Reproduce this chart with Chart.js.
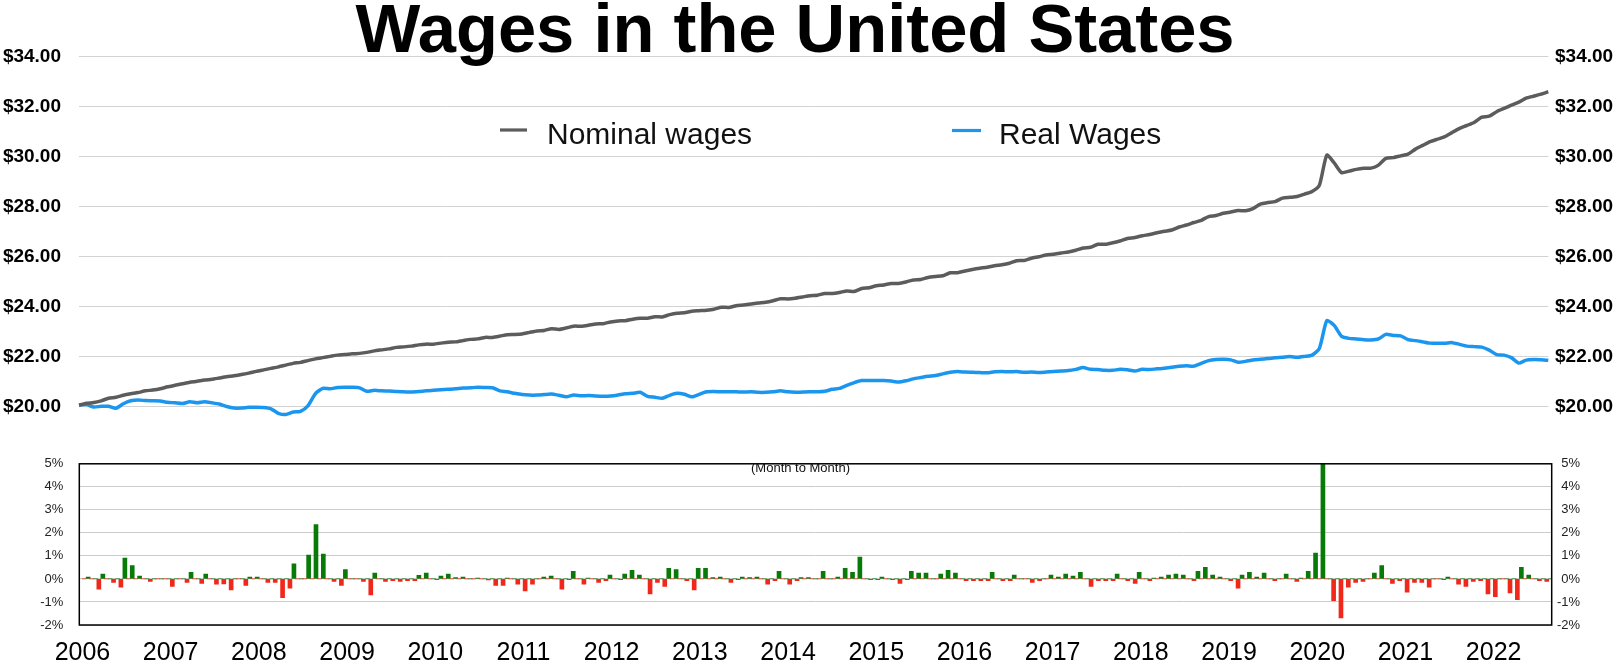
<!DOCTYPE html>
<html>
<head>
<meta charset="utf-8">
<script src="https://cdn.jsdelivr.net/npm/chart.js@4.4.0/dist/chart.umd.min.js"></script>
<style>
html, body { margin: 0; padding: 0; background: #ffffff; }
#wrap { position: relative; width: 1616px; height: 665px; overflow: hidden; background: #fff; }
#topChart { position: absolute; left: 0; top: 0; }
#bottomChart { position: absolute; left: 0; top: 440px; }
</style>
</head>
<body>
<div id="wrap">
  <canvas id="topChart" width="1616" height="440"></canvas>
  <canvas id="bottomChart" width="1616" height="225"></canvas>
</div>
<script>
// ---------------- DATA ----------------
const chartTitle = 'Wages in the United States';
const seriesNames = ['Nominal wages', 'Real Wages'];
const barNote = '(Month to Month)';
const yearLabels = ['2006','2007','2008','2009','2010','2011','2012','2013','2014','2015','2016','2017','2018','2019','2020','2021','2022'];
const wageTickValues = [20, 22, 24, 26, 28, 30, 32, 34];
const pctTickValues = [-2, -1, 0, 1, 2, 3, 4, 5];

// Monthly, Mar 2006 .. Oct 2022 (USD per hour)
const nominalWages = [
  20.04,20.12,20.15,20.22,20.32,20.36,20.44,20.50,20.55,20.62,
  20.65,20.70,20.78,20.84,20.90,20.96,21.00,21.05,21.08,21.13,21.18,21.22,
  21.27,21.33,21.40,21.46,21.52,21.58,21.65,21.72,21.76,21.83,21.90,21.95,
  22.00,22.05,22.07,22.10,22.12,22.16,22.22,22.26,22.30,22.36,22.38,22.41,
  22.46,22.49,22.49,22.53,22.57,22.58,22.63,22.68,22.70,22.76,22.76,22.81,
  22.87,22.88,22.90,22.96,23.02,23.04,23.11,23.08,23.14,23.21,23.21,23.25,
  23.30,23.31,23.38,23.42,23.43,23.49,23.53,23.53,23.59,23.58,23.67,23.73,
  23.75,23.81,23.83,23.85,23.89,23.97,23.96,24.03,24.06,24.10,24.14,24.17,
  24.23,24.31,24.30,24.33,24.38,24.43,24.45,24.52,24.52,24.56,24.62,24.60,
  24.72,24.75,24.83,24.86,24.92,24.92,24.98,25.06,25.08,25.16,25.20,25.23,
  25.35,25.35,25.42,25.48,25.53,25.57,25.63,25.67,25.73,25.83,25.84,25.93,
  25.99,26.06,26.09,26.14,26.18,26.25,26.34,26.37,26.49,26.49,26.55,26.62,
  26.72,26.76,26.83,26.88,26.95,27.01,27.06,27.18,27.26,27.36,27.45,27.60,
  27.64,27.73,27.78,27.84,27.83,27.92,28.10,28.16,28.20,28.34,28.37,28.40,
  28.50,28.60,28.86,30.06,29.75,29.36,29.42,29.49,29.53,29.54,29.66,29.93,
  29.96,30.03,30.10,30.30,30.45,30.60,30.70,30.80,30.97,31.13,31.25,31.38,
  31.58,31.62,31.80,31.93,32.06,32.18,32.34,32.42,32.50,32.60
];
const realWages = [
  20.05,20.07,19.97,20.00,20.00,19.92,20.10,20.22,20.25,20.23,
  20.22,20.21,20.16,20.14,20.11,20.18,20.14,20.18,20.14,20.09,19.99,19.93,
  19.93,19.96,19.96,19.95,19.90,19.72,19.67,19.77,19.80,20.02,20.50,20.72,
  20.70,20.75,20.76,20.76,20.74,20.60,20.64,20.62,20.61,20.59,20.58,20.57,
  20.59,20.62,20.64,20.66,20.68,20.70,20.73,20.74,20.76,20.75,20.74,20.62,
  20.58,20.52,20.47,20.45,20.45,20.47,20.49,20.44,20.38,20.45,20.42,20.43,
  20.41,20.40,20.41,20.45,20.50,20.52,20.56,20.40,20.36,20.32,20.44,20.52,
  20.48,20.38,20.48,20.58,20.59,20.58,20.58,20.58,20.57,20.58,20.56,20.56,
  20.58,20.62,20.58,20.56,20.57,20.58,20.58,20.60,20.68,20.72,20.84,20.95,
  21.03,21.03,21.03,21.03,21.01,20.97,21.02,21.10,21.15,21.20,21.23,21.30,
  21.36,21.39,21.37,21.36,21.35,21.34,21.38,21.39,21.38,21.39,21.36,21.37,
  21.35,21.37,21.39,21.41,21.43,21.48,21.55,21.48,21.47,21.44,21.44,21.48,
  21.46,21.41,21.48,21.47,21.50,21.52,21.56,21.60,21.62,21.61,21.72,21.83,
  21.87,21.88,21.86,21.76,21.80,21.85,21.88,21.91,21.94,21.96,21.99,21.96,
  22.00,22.05,22.32,23.43,23.24,22.80,22.72,22.70,22.67,22.66,22.70,22.88,
  22.84,22.82,22.67,22.63,22.58,22.53,22.53,22.53,22.55,22.48,22.41,22.39,
  22.37,22.25,22.07,22.05,21.95,21.73,21.85,21.87,21.86,21.84
];

// Month-to-month change (%), 200 slots; positive (green) and negative (red) series
const changeUp = [
  0.08,0,0.21,0,0,0.91,0.58,0.12,0,0,
  0,0,0,0,0.29,0,0.21,0,0,0,
  0,0,0.08,0.08,0,0,0,0,0.66,0,
  1.04,2.36,1.08,0,0,0.41,0,0,0,0.25,
  0,0,0,0,0,0.16,0.25,0,0.12,0.21,
  0.06,0.08,0,0.04,0,0,0,0.04,0,0,
  0,0,0.08,0.12,0,0,0.33,0,0.04,0,
  0,0.17,0,0.21,0.37,0.17,0,0,0,0.46,
  0.41,0,0,0.46,0.46,0.06,0.08,0,0,0.08,
  0.06,0.08,0,0,0.33,0,0,0.06,0.06,0,
  0.33,0,0.08,0.46,0.29,0.95,0,0,0.08,0,
  0,0,0.33,0.25,0.25,0,0.21,0.37,0.25,0,
  0,0,0,0.29,0,0,0.17,0,0,0,
  0,0.17,0.08,0.21,0.12,0.29,0,0,0,0,
  0.21,0,0,0.29,0,0.04,0.08,0.17,0.21,0.17,
  0,0.33,0.5,0.17,0.08,0,0,0.17,0.29,0.08,
  0.25,0,0,0.21,0,0.04,0.33,1.12,5.5,0,
  0,0,0,0,0,0.25,0.58,0,0,0,
  0,0,0,0,0,0.08,0,0,0,0,
  0,0,0,0,0,0.5,0.17,0,0,0
];
const changeDown = [
  0,0,-0.44,0,-0.15,-0.36,0,0,0,-0.11,
  0,0,-0.32,0,-0.15,0,-0.19,0,-0.23,-0.22,
  -0.48,0,-0.28,0,0,-0.15,-0.15,-0.81,-0.40,0,
  0,0,0,0,-0.11,-0.28,0,0,-0.11,-0.69,
  0,-0.11,-0.07,-0.11,-0.07,-0.07,0,0,-0.03,0,
  0,0,0,0,0,-0.04,-0.28,-0.28,0,-0.23,
  -0.52,-0.23,0,0,0,-0.44,-0.03,0,-0.23,0,
  -0.15,-0.07,0,-0.03,0,0,0,-0.65,-0.15,-0.32,
  0,0,-0.07,-0.48,0,0,0,0,-0.15,-0.03,
  0,0,0,-0.23,-0.07,0,-0.23,-0.07,0,0,
  0,0,0,0,0,0,0,-0.03,-0.03,0,
  -0.03,-0.19,-0.03,0,0,0,0,0,0,0,
  -0.07,-0.07,-0.07,-0.07,0,-0.07,-0.07,0,0,-0.15,
  -0.07,0,0,0,0,0,0,-0.32,-0.07,-0.07,
  -0.07,0,-0.07,-0.19,0,-0.07,0,0,0,0,
  0,-0.07,0,0,0,0,-0.07,-0.40,0,0,
  0,0,-0.07,0,0,-0.11,0,0,0,0,
  -0.94,-1.69,-0.36,-0.15,-0.11,0,0,0,-0.19,-0.07,
  -0.57,-0.15,-0.15,-0.36,0,-0.03,0,-0.23,-0.32,-0.11,
  -0.07,-0.65,-0.77,0,-0.61,-0.90,0,0,-0.07,-0.11
];

// ---------------- STYLE ----------------
const FONT = '"Liberation Sans", Arial, Helvetica, sans-serif';
const NOMINAL_COLOR = '#5c5c5c';
const REAL_COLOR = '#1b96ef';
const UP_COLOR = '#087a08';
const DOWN_COLOR = '#f0281c';

// Month category labels (Mar 2006 onward)
const months = nominalWages.map((_, i) => {
  const m = (2 + i) % 12;
  const y = 2006 + Math.floor((2 + i) / 12);
  return y + '-' + String(m + 1).padStart(2, '0');
});

// ---------------- TOP CHART ----------------
const lineLegendPlugin = {
  id: 'lineLegend',
  afterDraw(chart) {
    const ctx = chart.ctx;
    const spots = [
      { x1: 500, x2: 527, y: 130, tx: 547, ty: 144 },
      { x1: 952, x2: 981, y: 130.5, tx: 999, ty: 143.5 }
    ];
    ctx.save();
    chart.data.datasets.forEach((ds, i) => {
      const s = spots[i];
      ctx.strokeStyle = ds.borderColor;
      ctx.lineWidth = 3.2;
      ctx.lineCap = 'butt';
      ctx.beginPath();
      ctx.moveTo(s.x1, s.y);
      ctx.lineTo(s.x2, s.y);
      ctx.stroke();
      ctx.fillStyle = '#111';
      ctx.font = '30px ' + FONT;
      ctx.textAlign = 'left';
      ctx.textBaseline = 'alphabetic';
      ctx.fillText(ds.label, s.tx, s.ty);
    });
    ctx.restore();
  }
};

new Chart(document.getElementById('topChart'), {
  type: 'line',
  data: {
    labels: months,
    datasets: [
      { label: seriesNames[0], data: nominalWages, borderColor: NOMINAL_COLOR, backgroundColor: NOMINAL_COLOR,
        borderWidth: 3.5, pointRadius: 0, tension: 0.2, clip: false, yAxisID: 'y' },
      { label: seriesNames[1], data: realWages, borderColor: REAL_COLOR, backgroundColor: REAL_COLOR,
        borderWidth: 3.5, pointRadius: 0, tension: 0.2, clip: false, yAxisID: 'y' }
    ]
  },
  options: {
    responsive: false,
    animation: false,
    events: [],
    layout: { padding: { left: -26, right: 0, top: 0, bottom: 33.7 } },
    plugins: {
      legend: { display: false },
      tooltip: { enabled: false },
      title: {
        display: true,
        text: chartTitle,
        color: '#000',
        font: { family: FONT, size: 68.7, weight: 'bold', lineHeight: 0.695 },
        padding: { top: 9, bottom: 0 }
      }
    },
    scales: {
      x: { type: 'category', display: false, offset: false },
      y: {
        position: 'left', min: 20, max: 34,
        afterBuildTicks: (axis) => { axis.ticks = wageTickValues.map(v => ({ value: v })); },
        afterFit: (axis) => { axis.width = 105; },
        grid: { color: '#d3d3d3', lineWidth: 1, drawTicks: false },
        border: { display: false },
        ticks: { padding: 18, color: '#000', font: { family: FONT, size: 19, weight: 'bold' },
                 callback: (v) => '$' + Number(v).toFixed(2) }
      },
      y2: {
        position: 'right', min: 20, max: 34,
        afterBuildTicks: (axis) => { axis.ticks = wageTickValues.map(v => ({ value: v })); },
        afterFit: (axis) => { axis.width = 67.7; },
        grid: { display: false, drawTicks: false },
        border: { display: false },
        ticks: { padding: 6.7, color: '#000', font: { family: FONT, size: 19, weight: 'bold' },
                 callback: (v) => '$' + Number(v).toFixed(2) }
      }
    }
  },
  plugins: [lineLegendPlugin]
});

// ---------------- BOTTOM CHART ----------------
const boxPlugin = {
  id: 'boxAndNote',
  afterDraw(chart) {
    const { ctx, chartArea: a } = chart;
    ctx.save();
    ctx.strokeStyle = '#000';
    ctx.lineWidth = 1.5;
    ctx.strokeRect(a.left, a.top, a.right - a.left, a.bottom - a.top);
    ctx.fillStyle = '#111';
    ctx.font = '13px ' + FONT;
    ctx.textAlign = 'center';
    ctx.textBaseline = 'middle';
    ctx.fillText(barNote, 800.5, 28);
    ctx.restore();
  }
};

const toPoints = (arr) => arr.map((v, k) => ({ x: k, y: v }));

new Chart(document.getElementById('bottomChart'), {
  type: 'bar',
  data: {
    datasets: [
      { label: 'Decrease', data: toPoints(changeDown), backgroundColor: DOWN_COLOR, borderWidth: 0, barThickness: 4, yAxisID: 'y' },
      { label: 'Increase', data: toPoints(changeUp), backgroundColor: UP_COLOR, borderWidth: 0, barThickness: 4, yAxisID: 'y' }
    ]
  },
  options: {
    responsive: false,
    animation: false,
    events: [],
    layout: { padding: { left: 0, right: 36, top: 16, bottom: 0 } },
    plugins: { legend: { display: false }, tooltip: { enabled: false }, title: { display: false } },
    scales: {
      x: {
        type: 'linear', min: -0.93, max: 199.4, bounds: 'data', offset: false,
        afterBuildTicks: (axis) => { axis.ticks = yearLabels.map((_, j) => ({ value: 12 * j - 0.5 })); },
        afterFit: (axis) => { axis.height = 40; },
        grid: { display: false, drawTicks: false },
        border: { display: false },
        ticks: { autoSkip: false, maxRotation: 0, padding: 13, color: '#000',
                 font: { family: FONT, size: 25 },
                 callback: (v, i) => yearLabels[i] }
      },
      y: {
        position: 'left', min: -2, max: 5,
        afterBuildTicks: (axis) => { axis.ticks = pctTickValues.map(v => ({ value: v })); },
        afterFit: (axis) => { axis.width = 79.3; },
        grid: { color: '#cccccc', lineWidth: 1, drawTicks: false },
        border: { display: false },
        ticks: { padding: 16, color: '#222', font: { family: FONT, size: 13 }, callback: (v) => v + '%' }
      },
      y2: {
        position: 'right', min: -2, max: 5,
        afterBuildTicks: (axis) => { axis.ticks = pctTickValues.map(v => ({ value: v })); },
        afterFit: (axis) => { axis.width = 28.3; },
        grid: { display: false, drawTicks: false },
        border: { display: false },
        ticks: { padding: 6, crossAlign: 'far', color: '#222', font: { family: FONT, size: 13 }, callback: (v) => v + '%' }
      }
    }
  },
  plugins: [boxPlugin]
});
</script>
</body>
</html>
